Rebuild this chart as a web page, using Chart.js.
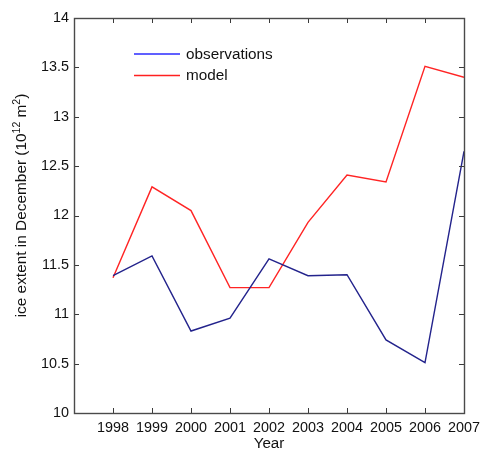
<!DOCTYPE html>
<html>
<head>
<meta charset="utf-8">
<script src="https://cdn.jsdelivr.net/npm/chart.js@4/dist/chart.umd.min.js"></script>
<style>
  html, body { margin: 0; padding: 0; background: #fff; }
  #wrap { width: 482px; height: 452px; }
</style>
</head>
<body>
<div id="wrap"><canvas id="c" width="482" height="452"></canvas></div>
<script>
// December ice extent, 10^12 m^2
const years = [1998, 1999, 2000, 2001, 2002, 2003, 2004, 2005, 2006, 2007];
const observations = [11.39, 11.59, 10.83, 10.96, 11.56, 11.39, 11.40, 10.74, 10.51, 12.65];
const model = [11.37, 12.29, 12.05, 11.27, 11.27, 11.93, 12.41, 12.34, 13.51, 13.40];
const yTicks = [10, 10.5, 11, 11.5, 12, 12.5, 13, 13.5, 14];

// y-axis title as runs of [text, superscript?]
const yTitleRuns = [['ice extent in December (10', false], ['12', true], [' m', false], ['2', true], [')', false]];

const FONT = '"Liberation Sans", Arial, Helvetica, sans-serif';

function toPoints(values) {
  return years.map((yr, i) => ({ x: yr, y: values[i] }));
}

// MATLAB-style frame: box around the plot with tick marks pointing inward on all sides
const framePlugin = {
  id: 'frame',
  afterDraw(chart) {
    const { ctx, chartArea: a, scales } = chart;
    const len = 5;
    ctx.save();
    ctx.strokeStyle = '#3a3a3a';
    ctx.lineWidth = 1;
    ctx.beginPath();
    for (const yr of years) {
      const px = Math.round(scales.x.getPixelForValue(yr)) + 0.5;
      ctx.moveTo(px, a.bottom); ctx.lineTo(px, a.bottom - len);
      ctx.moveTo(px, a.top); ctx.lineTo(px, a.top + len);
    }
    for (const v of yTicks) {
      const py = Math.round(scales.y.getPixelForValue(v)) + 0.5;
      ctx.moveTo(a.left, py); ctx.lineTo(a.left + len, py);
      ctx.moveTo(a.right, py); ctx.lineTo(a.right - len, py);
    }
    ctx.stroke();
    ctx.strokeStyle = '#4a4a4a';
    ctx.lineWidth = 1.4;
    ctx.strokeRect(Math.round(a.left) + 0.5, Math.round(a.top) + 0.5,
                   Math.round(a.right - a.left), Math.round(a.bottom - a.top));
    ctx.restore();
  }
};

// Rotated y-axis title with true superscripts
const yTitlePlugin = {
  id: 'yTitle',
  afterDraw(chart) {
    const { ctx, chartArea: a } = chart;
    const main = '15.4px ' + FONT, sup = '10.5px ' + FONT;
    ctx.save();
    let total = 0;
    for (const [t, s] of yTitleRuns) { ctx.font = s ? sup : main; total += ctx.measureText(t).width; }
    const cy = (a.top + a.bottom) / 2 - 10;
    ctx.translate(26, cy + total / 2);
    ctx.rotate(-Math.PI / 2);
    ctx.fillStyle = '#111';
    ctx.textBaseline = 'alphabetic';
    let x = 0;
    for (const [t, s] of yTitleRuns) {
      ctx.font = s ? sup : main;
      ctx.fillText(t, x, s ? -6.5 : 0);
      x += ctx.measureText(t).width;
    }
    ctx.restore();
  }
};

// Legend drawn inside the axes, upper left
const innerLegend = {
  id: 'innerLegend',
  afterDraw(chart) {
    const { ctx, chartArea: a } = chart;
    const swatch = ['#2b2bff', '#ff2020'];
    ctx.save();
    ctx.font = '15.3px ' + FONT;
    ctx.textBaseline = 'middle';
    ctx.fillStyle = '#111';
    chart.data.datasets.forEach((ds, i) => {
      const y = a.top + 36 + i * 21.5;
      ctx.strokeStyle = swatch[i];
      ctx.lineWidth = 1.3;
      ctx.beginPath();
      ctx.moveTo(a.left + 60, y);
      ctx.lineTo(a.left + 106, y);
      ctx.stroke();
      ctx.fillText(ds.label, a.left + 112, y + 0.5);
    });
    ctx.restore();
  }
};

new Chart(document.getElementById('c'), {
  type: 'line',
  data: {
    datasets: [
      { label: 'observations', data: toPoints(observations), borderColor: '#23238c',
        borderWidth: 1.4, pointRadius: 0, tension: 0, fill: false },
      { label: 'model', data: toPoints(model), borderColor: '#ff2424',
        borderWidth: 1.4, pointRadius: 0, tension: 0, fill: false }
    ]
  },
  options: {
    responsive: false,
    animation: false,
    layout: { padding: { top: 18, right: 18, left: 0, bottom: 0 } },
    plugins: { legend: { display: false }, tooltip: { enabled: false } },
    scales: {
      x: {
        type: 'linear', min: 1997, max: 2007,
        afterFit(s) { s.height = 39; s.paddingLeft = 0; s.paddingRight = 0; },
        afterBuildTicks(s) { s.ticks = years.map(v => ({ value: v })); },
        grid: { display: false, drawTicks: false },
        border: { display: false },
        ticks: { padding: 6, color: '#111', font: { family: FONT, size: 14.4 },
                 maxRotation: 0, autoSkip: false, callback: v => String(v) },
        title: { display: true, text: 'Year', color: '#111',
                 font: { family: FONT, size: 15.2, lineHeight: 1.05 }, padding: { top: 0, bottom: 0 } }
      },
      y: {
        min: 10, max: 14,
        afterFit(s) { s.width = 74; s.paddingTop = 0; s.paddingBottom = 0; },
        afterBuildTicks(s) { s.ticks = yTicks.map(v => ({ value: v })); },
        grid: { display: false, drawTicks: false },
        border: { display: false },
        ticks: { padding: 5, color: '#111', font: { family: FONT, size: 14.4 },
                 callback: v => String(v) },
        title: { display: false }
      }
    }
  },
  plugins: [framePlugin, yTitlePlugin, innerLegend]
});
</script>
</body>
</html>
